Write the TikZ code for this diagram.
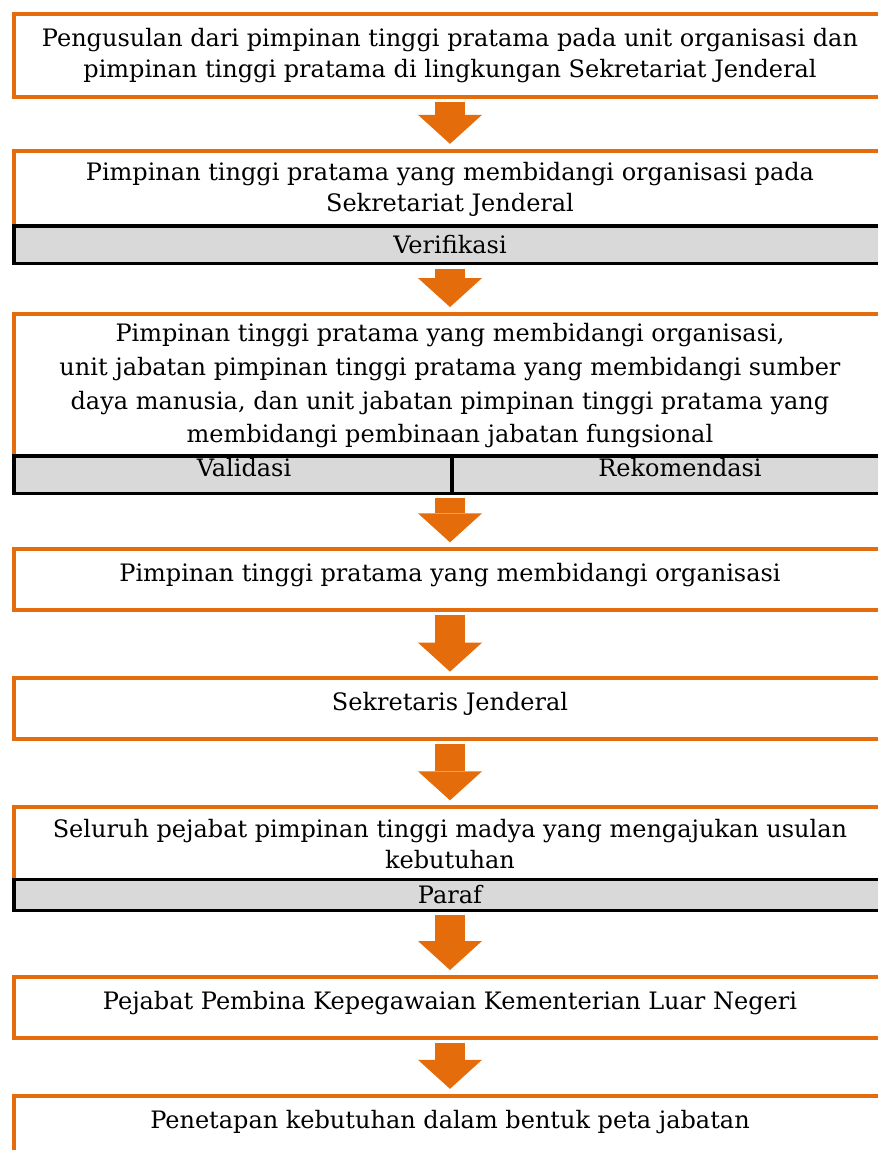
\documentclass[tikz,border=0pt]{standalone}
\usepackage{fontspec}
\setmainfont{DejaVu Serif}
\usetikzlibrary{arrows.meta}
\definecolor{floworange}{RGB}{228,108,10}
\definecolor{bargray}{RGB}{217,217,217}
\begin{document}
\begin{tikzpicture}[x=0.75pt,y=-0.75pt,font=\fontsize{18}{23.5}\selectfont,
  stepbox/.style={draw=floworange,line width=3pt,fill=white,minimum width=654pt,inner sep=0pt,align=center},
  oneline/.style={text height=15pt,text depth=12pt},
  barbox/.style={draw=black,line width=2.6pt,fill=bargray,inner sep=0pt},
  flow/.style={draw=floworange,line width=22.5pt,-{Triangle[width=48pt,length=21.75pt,line width=0pt]},shorten <=2.5pt,shorten >=3.5pt}]

\useasboundingbox (0,0) rectangle (878,1150);
\clip (0,0) rectangle (878,1150);

\node[stepbox,minimum height=62.25pt] (s1) at (450,55.5) {Pengusulan dari pimpinan tinggi pratama pada unit organisasi dan\\pimpinan tinggi pratama di lingkungan Sekretariat Jenderal};

\node[stepbox,minimum height=58.1pt] (s2) at (450,189.25) {Pimpinan tinggi pratama yang membidangi organisasi pada\\Sekretariat Jenderal};
\node[barbox,minimum width=654pt,minimum height=28.3pt] (ver) at (450,244.85) {Verifikasi};

\node[stepbox,minimum height=108.2pt,font=\fontsize{18}{25.3}\selectfont] (s3) at (450,385.85) {Pimpinan tinggi pratama yang membidangi organisasi,\\unit jabatan pimpinan tinggi pratama yang membidangi sumber\\daya manusia, dan unit jabatan pimpinan tinggi pratama yang\\membidangi pembinaan jabatan fungsional};
\node[barbox,minimum width=328.5pt,minimum height=28pt,text height=13.5pt,text depth=10pt] (val) at (233,474.65) {\hspace*{16.5pt}Validasi};
\node[barbox,minimum width=325.5pt,minimum height=28pt,text height=13.5pt,text depth=10pt] (rek) at (669,474.65) {\hspace*{16.5pt}Rekomendasi};

\node[stepbox,oneline,minimum height=45.75pt] (s4) at (450,579.5) {Pimpinan tinggi pratama yang membidangi organisasi};

\node[stepbox,oneline,minimum height=45.5pt] (s5) at (450,708.65) {Sekretaris Jenderal};

\node[stepbox,minimum height=55.5pt] (s6) at (450,844) {Seluruh pejabat pimpinan tinggi madya yang mengajukan usulan\\kebutuhan};
\node[barbox,minimum width=654pt,minimum height=23.25pt] (par) at (450,894.8) {Paraf};

\node[stepbox,oneline,minimum height=46pt] (s7) at (450,1007.35) {Pejabat Pembina Kepegawaian Kementerian Luar Negeri};

\node[stepbox,oneline,minimum height=45.75pt] (s8) at (450,1126) {Penetapan kebutuhan dalam bentuk peta jabatan};

\draw[flow] (s1.south) -- (s2.north);
\draw[flow] (ver.south) -- (s3.north);
\draw[flow] (s4.north |- val.south) -- (s4.north);
\draw[flow] (s4.south) -- (s5.north);
\draw[flow] (s5.south) -- (s6.north);
\draw[flow] (par.south) -- (s7.north);
\draw[flow] (s7.south) -- (s8.north);

\end{tikzpicture}
\end{document}
